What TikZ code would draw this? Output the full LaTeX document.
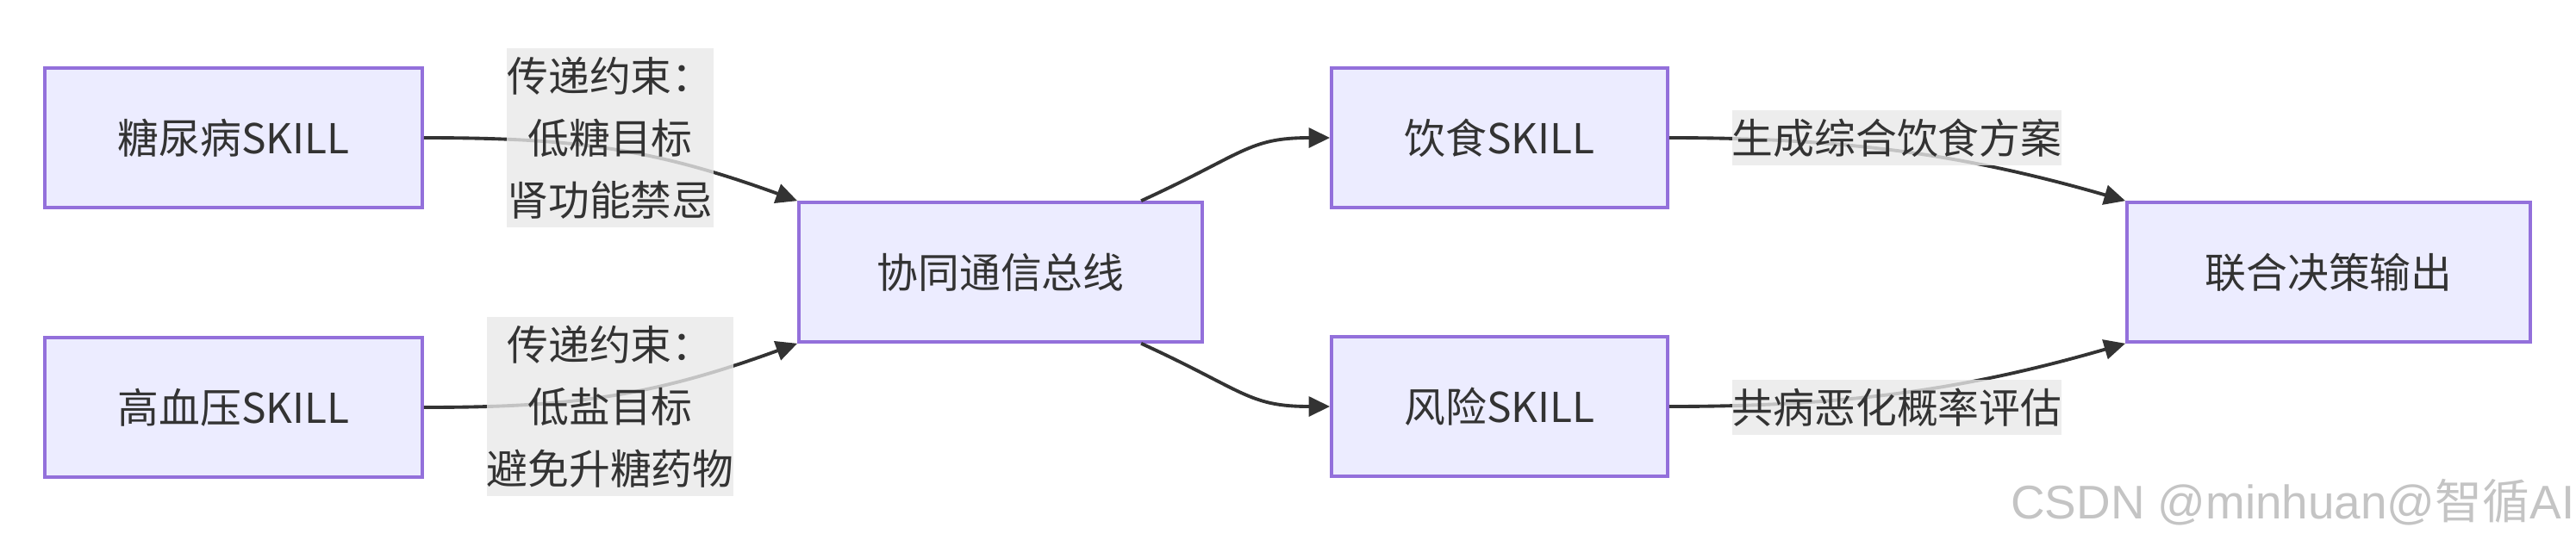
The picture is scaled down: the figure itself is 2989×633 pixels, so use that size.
\documentclass[tikz,border=0pt]{standalone}
\usepackage{fontspec}
\newfontfamily\cjk{Noto Sans CJK SC}
\newfontfamily\wmfont{Liberation Sans}
\usetikzlibrary{arrows.meta}
\definecolor{nodefill}{HTML}{ECECFF}
\definecolor{nodeline}{HTML}{9370DB}
\definecolor{ink}{HTML}{333333}
\definecolor{lblfill}{HTML}{E8E8E8}
\definecolor{wmgray}{HTML}{C4C4C4}
\tikzset{
  skill/.style={draw=nodeline, fill=nodefill, line width=1pt, text=ink,
    minimum height=1.62cm, inner sep=0pt, font=\cjk\fontsize{13.6}{20.5}\selectfont},
  lbl/.style={fill=lblfill, fill opacity=0.8, text opacity=1, text=ink, inner xsep=0pt,
    inner ysep=0.1cm, align=center, font=\cjk\fontsize{13.6}{20.5}\selectfont},
  edge/.style={draw=ink, line width=1.1pt, -{Triangle[length=7pt,width=6.5pt]}}
}

\begin{document}
\begin{tikzpicture}[x=0.01cm,y=-0.01cm]
			\useasboundingbox (0,0) rectangle (2989,633); % same frame as the screenshot
			% the two disease skills
			\node[skill, minimum width=4.38cm] (dm) at (271,160) {糖尿病SKILL};
			\node[skill, minimum width=4.38cm] (hbp) at (271,473) {高血压SKILL};
			% the bus in the middle
			\node[skill, minimum width=4.68cm] (bus) at (1161,316) {协同通信总线};
			% downstream skills
			\node[skill, minimum width=3.90cm] (diet) at (1740,160) {饮食SKILL};
			\node[skill, minimum width=3.90cm] (risk) at (1740,472) {风险SKILL};
			% joint output
			\node[skill, minimum width=4.68cm] (out) at (2702,316) {联合决策输出};
			% connectors
			\draw[edge] (dm.east) .. controls +(170,0) and +(-170,-62) .. (bus.north west);
			\draw[edge] (hbp.east) .. controls +(170,0) and +(-170,62) .. (bus.south west);
			\draw[edge] ([xshift=1.63cm]bus.north) .. controls +(120,-55) and +(-95,0) .. (diet.west);
			\draw[edge] ([xshift=1.63cm]bus.south) .. controls +(120,55) and +(-95,0) .. (risk.west);
			\draw[edge] (diet.east) .. controls +(200,0) and +(-190,-55) .. (out.north west);
			\draw[edge] (risk.east) .. controls +(200,0) and +(-190,55) .. (out.south west);
			% edge labels, on top of the lines
			\node[lbl] (l1) at (708,160) {传递约束：\\低糖目标\\肾功能禁忌};
			\node[lbl] (l2) at (708,472) {传递约束：\\低盐目标\\避免升糖药物};
			\node[lbl] (l3) at (2201,160) {生成综合饮食方案};
			\node[lbl] (l4) at (2201,473) {共病恶化概率评估};
			% watermark
			\node[anchor=east, inner sep=0pt, text=wmgray, font=\wmfont\fontsize{15.6}{18}\selectfont] (wm) at (2988,583) {CSDN @minhuan@{\cjk 智循}AI};
		\end{tikzpicture}
\end{document}
